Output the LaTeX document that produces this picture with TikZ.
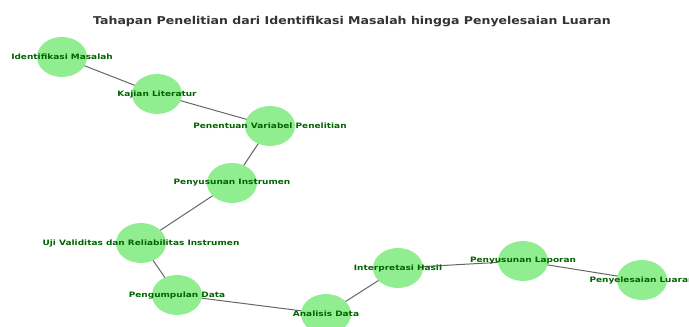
\documentclass[tikz,border=0pt]{standalone}
\usepackage{fontspec}
\setmainfont{DejaVu Sans}
\usetikzlibrary{shapes.geometric}
\definecolor{nodegreen}{HTML}{90EE90}
\definecolor{labelgreen}{HTML}{006400}
\definecolor{edgegray}{HTML}{666666}
\definecolor{titlegray}{HTML}{333333}
\begin{document}
\begin{tikzpicture}[x=1pt,y=1pt,
  stage/.style={ellipse,fill=nodegreen,draw=none,minimum width=50pt,minimum height=40pt,inner sep=0pt},
  lbl/.style={font=\bfseries\fontsize{7.4}{8}\selectfont,text=labelgreen,inner sep=0pt,xscale=1.21},
  link/.style={draw=edgegray,line width=1pt}]
\useasboundingbox (0,0) rectangle (689,327);
\coordinate (p1) at (62,270);
\coordinate (p2) at (157,233);
\coordinate (p3) at (270,201);
\coordinate (p4) at (232,144);
\coordinate (p5) at (141,84);
\coordinate (p6) at (177,32);
\coordinate (p7) at (326,13);
\coordinate (p8) at (398,59);
\coordinate (p9) at (523,66);
\coordinate (p10) at (642,47);
\draw[link] (p1) -- (p2) -- (p3) -- (p4) -- (p5) -- (p6) -- (p7) -- (p8) -- (p9) -- (p10);
\foreach \i in {1,...,10} \node[stage] (n\i) at (p\i) {};
\node[lbl] (t1) at (n1) {Identifikasi Masalah};
\node[lbl] (t2) at (n2) {Kajian Literatur};
\node[lbl] (t3) at (n3) {Penentuan Variabel Penelitian};
\node[lbl] (t4) at (n4) {Penyusunan Instrumen};
\node[lbl] (t5) at (n5) {Uji Validitas dan Reliabilitas Instrumen};
\node[lbl] (t6) at (n6) {Pengumpulan Data};
\node[lbl] (t7) at (n7) {Analisis Data};
\node[lbl] (t8) at (n8) {Interpretasi Hasil};
\node[lbl] (t9) at (n9) {Penyusunan Laporan};
\node[lbl] (t10) at (n10) {Penyelesaian Luaran};
\node[font=\bfseries\fontsize{10.8}{12}\selectfont,text=titlegray,inner sep=0pt,xscale=1.16] (title) at (352,305) {Tahapan Penelitian dari Identifikasi Masalah hingga Penyelesaian Luaran};
\end{tikzpicture}
\end{document}
